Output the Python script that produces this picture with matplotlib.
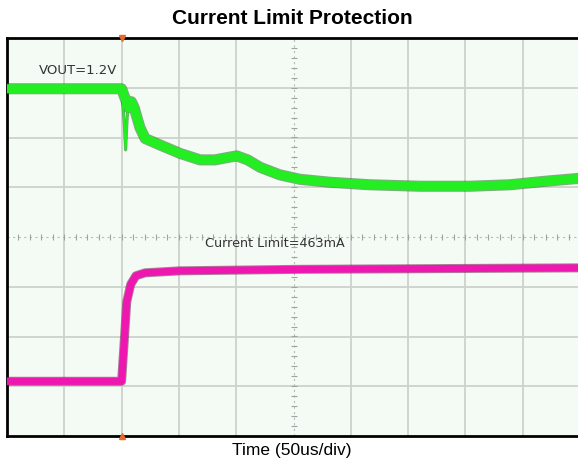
import numpy as np
import matplotlib.pyplot as plt

# time in divisions (50us/div), amplitude in divisions
t_vout = [0.0, 2.0, 2.12, 2.17, 2.22, 2.32, 2.41, 2.67, 3.02, 3.37,
          3.63, 3.86, 4.01, 4.20, 4.42, 4.76, 5.11, 5.64, 6.33, 7.21, 8.08, 8.78,
          9.39, 10.0]
vout = [2.98, 2.98, 2.6, 2.72, 2.6, 2.2, 1.98, 1.85, 1.68, 1.55,
        1.55, 1.60, 1.63, 1.55, 1.40, 1.25, 1.16, 1.10, 1.05, 1.02, 1.02, 1.05,
        1.12, 1.18]

# fast undershoot right after the load step
t_dip = [2.0, 2.04, 2.07, 2.10, 2.14]
v_dip = [2.98, 2.4, 1.75, 2.45, 2.7]

t_iout = [0.0, 2.0, 2.04, 2.09, 2.16, 2.25, 2.41, 3.02, 5.11, 10.0]
iout = [-2.9, -2.9, -2.2, -1.3, -0.95, -0.78, -0.72, -0.68, -0.65, -0.62]

plt.rcParams['font.family'] = ['Liberation Sans', 'DejaVu Sans']

fig = plt.figure(figsize=(5.78, 4.63), dpi=100)
ax = fig.add_axes([7 / 578, 27 / 463, 573 / 578, 398 / 463])
ax.set_facecolor('#f4fbf4')
ax.set_xlim(0, 10)
ax.set_ylim(-4, 4)

# scope graticule
for x in range(1, 10):
    if x != 5:
        ax.axvline(x, color='#cdd2cd', lw=1.3, zorder=1)
for y in range(-3, 4):
    if y != 0:
        ax.axhline(y, color='#cdd2cd', lw=1.3, zorder=1)
ax.axvline(5, color='#b8bcb8', lw=0.8, ls=(0, (2, 3)), zorder=1)
ax.axhline(0, color='#b8bcb8', lw=0.8, ls=(0, (2, 3)), zorder=1)
minor_x = np.arange(0, 10.01, 0.2)
minor_y = np.arange(-4, 4.01, 0.2)
ax.plot(minor_x, np.zeros_like(minor_x), ls='none', marker='|', ms=4,
        color='#a0a4a0', mew=0.8, zorder=1)
ax.plot(np.full_like(minor_y, 5), minor_y, ls='none', marker='_', ms=4,
        color='#a0a4a0', mew=0.8, zorder=1)

# traces
ax.plot(t_dip, v_dip, color='#1f6b1f', lw=2.2, alpha=0.6, zorder=3)
ax.plot(t_dip, v_dip, color='#22ee22', lw=1.4, zorder=4)
ax.plot(t_vout, vout, color='#1f6b1f', lw=8, alpha=0.55,
        solid_joinstyle='round', solid_capstyle='butt', zorder=3)
ax.plot(t_vout, vout, color='#22ee22', lw=6.5,
        solid_joinstyle='round', solid_capstyle='butt', zorder=4)
ax.plot(t_iout, iout, color='#6b1f4a', lw=6.5, alpha=0.55,
        solid_joinstyle='round', zorder=3)
ax.plot(t_iout, iout, color='#ee18b0', lw=5.2, solid_joinstyle='round', zorder=4)

# trigger markers
ax.plot([2], [4], marker='v', ms=4, color='#e86a2a', clip_on=False, zorder=5)
ax.plot([2], [-4], marker='^', ms=4, color='#e86a2a', clip_on=False, zorder=5)

ax.text(0.55, 3.35, 'VOUT=1.2V', fontsize=9.5, family='DejaVu Sans',
        color='#333333', va='center', zorder=5)
ax.text(3.45, -0.14, 'Current Limit=463mA', fontsize=9.2, family='DejaVu Sans',
        color='#333333', va='center', zorder=5)

ax.set_xticks([])
ax.set_yticks([])
for side in ['left', 'top', 'bottom']:
    ax.spines[side].set_linewidth(2)
    ax.spines[side].set_color('black')
ax.spines['right'].set_visible(False)

fig.text(292 / 578, 1 - 18 / 463, 'Current Limit Protection', ha='center',
         va='center', fontsize=15, fontweight='bold')
fig.text(292 / 578, 1 - 451 / 463, 'Time (50us/div)', ha='center',
         va='center', fontsize=12.5)

plt.savefig('out.png', dpi=100)
